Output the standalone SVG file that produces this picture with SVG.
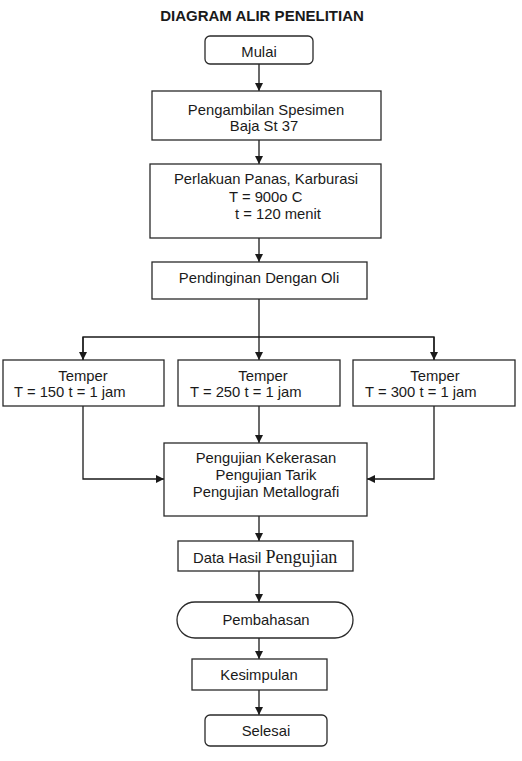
<svg xmlns="http://www.w3.org/2000/svg" width="522" height="761" viewBox="0 0 522 761">
<style>
.bx{fill:#fff;stroke:#2a2a2a;stroke-width:1.3}
.t{font-family:"Liberation Sans",Arial,sans-serif;font-size:14.8px;fill:#1a1a1a}
.c{text-anchor:middle}
.ln{fill:none;stroke:#1a1a1a;stroke-width:1.3}
</style>
<defs>
<marker id="ah" viewBox="0 0 10 10" refX="10" refY="5" markerWidth="8" markerHeight="8" markerUnits="userSpaceOnUse" orient="auto">
<path d="M0,0 L10,5 L0,10 z" fill="#1a1a1a"/>
</marker>
</defs>
<rect width="522" height="761" fill="#fff"/>
<text x="262" y="21" class="t c" style="font-weight:bold;font-size:15px">DIAGRAM ALIR PENELITIAN</text>
<g id="connectors">
<line class="ln" x1="259" y1="64" x2="259" y2="91" marker-end="url(#ah)"/>
<line class="ln" x1="259" y1="140" x2="259" y2="164" marker-end="url(#ah)"/>
<line class="ln" x1="259" y1="238" x2="259" y2="262" marker-end="url(#ah)"/>
<line class="ln" x1="259" y1="299" x2="259" y2="360" marker-end="url(#ah)"/>
<polyline class="ln" points="83,360 83,337 434,337 434,360"/>
<line class="ln" x1="83" y1="337" x2="83" y2="360" marker-end="url(#ah)"/>
<line class="ln" x1="434" y1="337" x2="434" y2="360" marker-end="url(#ah)"/>
<polyline class="ln" points="83,406 83,479 164,479" marker-end="url(#ah)"/>
<polyline class="ln" points="434,406 434,479 367,479" marker-end="url(#ah)"/>
<line class="ln" x1="259" y1="406" x2="259" y2="443" marker-end="url(#ah)"/>
<line class="ln" x1="259" y1="516" x2="259" y2="541" marker-end="url(#ah)"/>
<line class="ln" x1="259" y1="571" x2="259" y2="602" marker-end="url(#ah)"/>
<line class="ln" x1="259" y1="638" x2="259" y2="659" marker-end="url(#ah)"/>
<line class="ln" x1="259" y1="690" x2="259" y2="715" marker-end="url(#ah)"/>
</g>
<g id="mulai">
<rect class="bx" x="205" y="36" width="108" height="28" rx="5"/>
<text x="259" y="57" class="t c">Mulai</text>
</g>
<g id="pengambilan">
<rect class="bx" x="152" y="91" width="229" height="49"/>
<text x="266" y="115" class="t c">Pengambilan Spesimen</text>
<text x="264" y="131" class="t c">Baja St 37</text>
</g>
<g id="perlakuan">
<rect class="bx" x="150" y="164" width="231" height="74"/>
<text x="266" y="184" class="t c">Perlakuan Panas, Karburasi</text>
<text x="229" y="202" class="t">T = 900o C</text>
<text x="235" y="219" class="t">t = 120 menit</text>
</g>
<g id="pendinginan">
<rect class="bx" x="152" y="262" width="215" height="37"/>
<text x="259" y="283" class="t c">Pendinginan Dengan Oli</text>
</g>
<g id="temper150">
<rect class="bx" x="3" y="360" width="161" height="46"/>
<text x="83" y="381" class="t c">Temper</text>
<text x="14" y="397" class="t">T = 150 t = 1 jam</text>
</g>
<g id="temper250">
<rect class="bx" x="178" y="360" width="162" height="46"/>
<text x="263" y="381" class="t c">Temper</text>
<text x="190" y="397" class="t">T = 250 t = 1 jam</text>
</g>
<g id="temper300">
<rect class="bx" x="353" y="360" width="162" height="46"/>
<text x="435" y="381" class="t c">Temper</text>
<text x="365" y="397" class="t">T = 300 t = 1 jam</text>
</g>
<g id="pengujian">
<rect class="bx" x="164" y="443" width="203" height="73"/>
<text x="266" y="463" class="t c">Pengujian Kekerasan</text>
<text x="266" y="480" class="t c">Pengujian Tarik</text>
<text x="266" y="497" class="t c">Pengujian Metallografi</text>
</g>
<g id="datahasil">
<rect class="bx" x="178" y="541" width="175" height="30"/>
<text x="193" y="563" class="t">Data Hasil <tspan style="font-family:'Liberation Serif','Times New Roman',serif;font-size:18px">Pengujian</tspan></text>
</g>
<g id="pembahasan">
<rect class="bx" x="177" y="602" width="176" height="36" rx="18"/>
<text x="266" y="625" class="t c">Pembahasan</text>
</g>
<g id="kesimpulan">
<rect class="bx" x="192" y="659" width="135" height="31"/>
<text x="259" y="680" class="t c">Kesimpulan</text>
</g>
<g id="selesai">
<rect class="bx" x="205" y="715" width="122" height="31" rx="5"/>
<text x="266" y="736" class="t c">Selesai</text>
</g>
</svg>
